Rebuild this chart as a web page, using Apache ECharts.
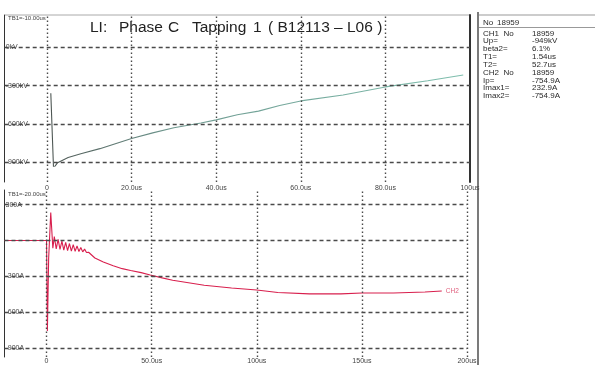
<!DOCTYPE html>
<html><head><meta charset="utf-8">
<script src="https://cdn.jsdelivr.net/npm/echarts@6/dist/echarts.min.js"></script>
<style>html,body{margin:0;padding:0;background:#fff}#c{width:595px;height:365px}</style>
</head><body><div id="c"></div>
<script>
// CH1: impulse voltage (time in µs, voltage in kV)
const ch1Time = [0.9, 1.54, 2.5, 5, 8, 12.5, 20, 25, 30, 36.4, 40, 45, 50, 55, 60, 70, 80, 90, 98.4];
const ch1Volt = [-360, -949, -905, -865, -835, -795, -715, -671, -631, -593, -569, -529, -500, -456, -420, -373, -310, -262, -216];

// CH2: current (time in µs, current in A)
const ch2Time = [-20, 0, 0.4, 1.0, 2.0, 3.0, 3.7, 4.6, 5.5, 6.4, 7.3, 8.2, 9.1, 10.0, 10.9, 11.8, 12.7, 13.6, 14.5, 15.4, 16.3, 17.2, 18.1, 19.0, 20, 23, 27, 31.7, 36, 40, 45, 49.3, 55, 60, 75, 88, 100, 110, 125, 140, 150, 165, 180, 188];
const ch2Curr = [0, 0, -754.9, -150, 232.9, -65, 32, -70, 10, -75, -5, -80, -15, -85, -25, -88, -35, -90, -45, -92, -58, -95, -72, -100, -98, -146, -180, -211, -235, -251, -268, -288, -312, -332, -373, -397, -413, -434, -446, -446, -438, -438, -430, -422];

// graticule ticks and their labels
const upperXTicks = [0, 20, 40, 60, 80, 100];
const upperXLabels = ['0', '20.0us', '40.0us', '60.0us', '80.0us', '100us'];
const upperYTicks = [0, -300, -600, -900];
const upperYLabels = ['0kV', '-300kV', '-600kV', '-900kV'];
const lowerXTicks = [0, 50, 100, 150, 200];
const lowerXLabels = ['0', '50.0us', '100us', '150us', '200us'];
const lowerYTicks = [300, 0, -300, -600, -900];
const lowerYLabels = ['300A', '', '-300A', '-600A', '-900A'];

// measurement summary
const infoNames = ['No', 'CH1  No', 'Up=', 'beta2=', 'T1=', 'T2=', 'CH2  No', 'Ip=', 'Imax1=', 'Imax2='];
const infoValues = ['18959', '18959', '-949kV', '6.1%', '1.54us', '52.7us', '18959', '-754.9A', '232.9A', '-754.9A'];

const FONT = '"Liberation Sans", Arial, sans-serif';
const gridDark = '#4a4a4a';

const hLine = (v) => ({ yAxis: v, lineStyle: { type: [4, 3], width: 1.3, color: gridDark } });
const vLine = (v) => ({ xAxis: v, lineStyle: { type: [1.5, 2.5], width: 1.4, color: gridDark } });
const pick = (ticks, labels) => (v) => { const i = ticks.indexOf(v); return i < 0 ? '' : labels[i]; };

const chart = echarts.init(document.getElementById('c'), null, { renderer: 'canvas' });

const infoGraphics = [];
infoNames.forEach((n, i) => {
  const y = i === 0 ? 22.5 : 33.3 + (i - 1) * 7.85;
  infoGraphics.push({ type: 'text', silent: true, style: { text: n, x: 483, y: y, font: '8px ' + FONT, fill: '#2a2a2a', verticalAlign: 'middle', textVerticalAlign: 'middle' } });
  infoGraphics.push({ type: 'text', silent: true, style: { text: infoValues[i], x: i === 0 ? 497 : 532, y: y, font: '8px ' + FONT, fill: '#2a2a2a', verticalAlign: 'middle', textVerticalAlign: 'middle' } });
});

const titleText = (text, x) => ({ type: 'text', silent: true, style: { text: text, x: x, y: 28, font: '15.5px ' + FONT, fill: '#222', verticalAlign: 'middle', textVerticalAlign: 'middle' } });

const option = {
  animation: false,
  backgroundColor: '#fff',
  grid: [
    { left: 4.7, top: 15, width: 465.3, height: 167 },
    { left: 4.5, top: 190, width: 462.5, height: 172 }
  ],
  xAxis: [
    {
      type: 'value', gridIndex: 0, min: -10, max: 100,
      axisLine: { show: false }, axisTick: { show: false }, splitLine: { show: false },
      axisLabel: { customValues: upperXTicks, formatter: pick(upperXTicks, upperXLabels), fontSize: 7, fontFamily: FONT, color: '#444', margin: 3 }
    },
    {
      type: 'value', gridIndex: 1, min: -20, max: 200,
      axisLine: { show: false }, axisTick: { show: false }, splitLine: { show: false },
      axisLabel: { customValues: lowerXTicks, formatter: pick(lowerXTicks, lowerXLabels), fontSize: 7, fontFamily: FONT, color: '#444', margin: 1 }
    }
  ],
  yAxis: [
    {
      type: 'value', gridIndex: 0, min: -1057, max: 255,
      axisLine: { show: true, onZero: false, lineStyle: { color: '#333', width: 1 } },
      axisTick: { show: false }, splitLine: { show: false },
      axisLabel: { inside: true, margin: 1, customValues: upperYTicks, formatter: pick(upperYTicks, upperYLabels), fontSize: 7, fontFamily: FONT, color: '#444', backgroundColor: '#fff' }
    },
    {
      type: 'value', gridIndex: 0, min: -1057, max: 255, position: 'right',
      axisLine: { show: true, onZero: false, lineStyle: { color: '#333', width: 2 } },
      axisTick: { show: false }, splitLine: { show: false }, axisLabel: { show: false }
    },
    {
      type: 'value', gridIndex: 1, min: -973, max: 422,
      axisLine: { show: true, onZero: false, lineStyle: { color: '#333', width: 1 } },
      axisTick: { show: false }, splitLine: { show: false },
      axisLabel: { inside: true, margin: 1, customValues: lowerYTicks, formatter: pick(lowerYTicks, lowerYLabels), fontSize: 7, fontFamily: FONT, color: '#444', backgroundColor: '#fff' }
    }
  ],
  series: [
    {
      name: 'CH1', type: 'line', xAxisIndex: 0, yAxisIndex: 0,
      data: ch1Time.map((t, i) => [t, ch1Volt[i]]),
      showSymbol: false, smooth: false,
      lineStyle: {
        width: 1.1,
        color: new echarts.graphic.LinearGradient(0, 0, 1, 0, [
          { offset: 0, color: '#4d5552' }, { offset: 0.3, color: '#6f9990' }, { offset: 1, color: '#7fbfae' }
        ])
      },
      markPoint: {
        silent: true, symbol: 'emptyTriangle', symbolSize: 5, symbolRotate: 180, symbolOffset: [1, 2],
        itemStyle: { color: '#fff', borderColor: '#777', borderWidth: 0.8 }, label: { show: false },
        data: [{ coord: [ch1Time[1], ch1Volt[1]] }]
      },
      markLine: {
        silent: true, symbol: ['none', 'none'], label: { show: false },
        data: upperYTicks.map(hLine).concat(upperXTicks.slice(0, 5).map(vLine))
      },
      z: 3
    },
    {
      name: 'CH2', type: 'line', xAxisIndex: 1, yAxisIndex: 2,
      data: ch2Time.map((t, i) => [t, ch2Curr[i]]),
      showSymbol: false,
      lineStyle: { width: 1.1, color: '#d81f4d' },
      endLabel: { show: true, formatter: 'CH2', fontSize: 6.5, fontFamily: FONT, color: '#e0607e', distance: 4 },
      markLine: {
        silent: true, symbol: ['none', 'none'], label: { show: false },
        data: lowerYTicks.map(hLine).concat(lowerXTicks.map(vLine))
      },
      z: 3
    }
  ],
  graphic: [
    // panel frame lines
    { type: 'line', silent: true, shape: { x1: 5, y1: 15, x2: 470, y2: 15 }, style: { stroke: '#aaa', lineWidth: 1 } },
    { type: 'line', silent: true, shape: { x1: 478, y1: 12, x2: 478, y2: 365 }, style: { stroke: '#333', lineWidth: 1.3 } },
    { type: 'line', silent: true, shape: { x1: 479, y1: 15, x2: 595, y2: 15 }, style: { stroke: '#999', lineWidth: 1 } },
    { type: 'line', silent: true, shape: { x1: 479, y1: 27.5, x2: 595, y2: 27.5 }, style: { stroke: '#999', lineWidth: 1 } },
    // title and time base notes
    titleText('LI:', 90), titleText('Phase', 119), titleText('C', 168), titleText('Tapping', 192),
    titleText('1', 253), titleText('( B12113 – L06 )', 268),
    { type: 'text', silent: true, style: { text: 'TB1=-10.00us', x: 8, y: 18.5, font: '6px ' + FONT, fill: '#444', verticalAlign: 'middle', textVerticalAlign: 'middle' } },
    { type: 'text', silent: true, style: { text: 'TB1=-20.00us', x: 8, y: 194, font: '6px ' + FONT, fill: '#444', verticalAlign: 'middle', textVerticalAlign: 'middle' } }
  ].concat(infoGraphics)
};

chart.setOption(option);
</script>
</body></html>
